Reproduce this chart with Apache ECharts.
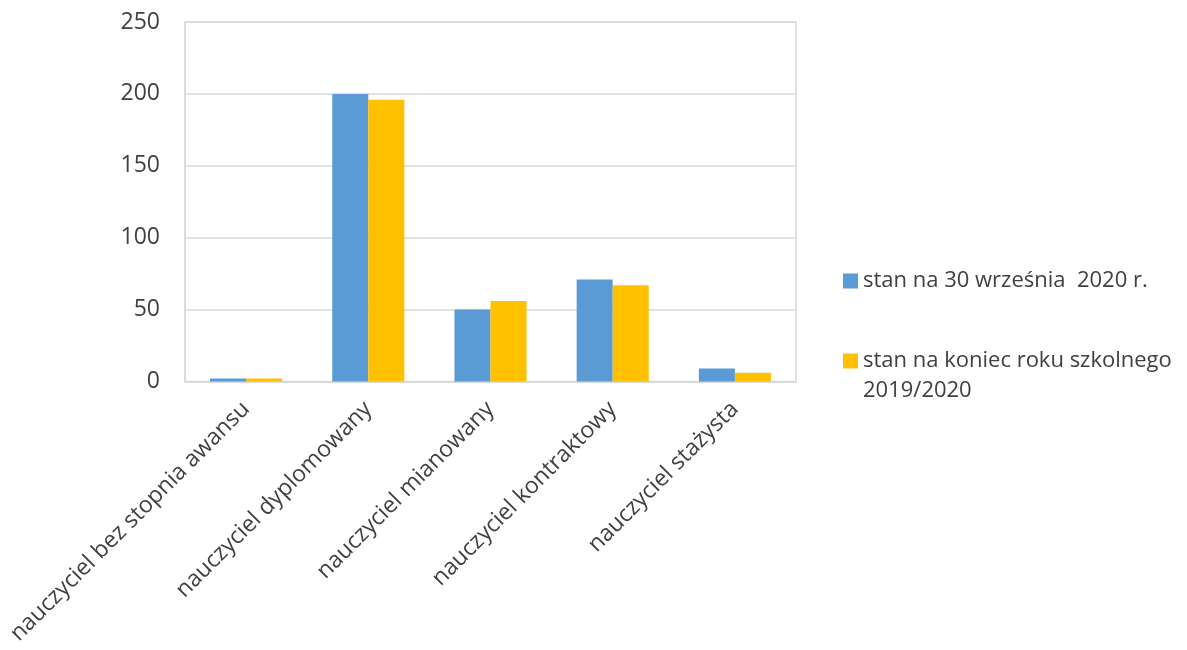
<!DOCTYPE html>
<html><head><meta charset="utf-8">
<script src="https://cdn.jsdelivr.net/npm/echarts@6/dist/echarts.min.js"></script>
<style>html,body{margin:0;padding:0;background:#fff}#c{width:1187px;height:650px}</style>
</head><body><div id="c"></div>
<script>
const categories = ['nauczyciel bez stopnia awansu','nauczyciel dyplomowany','nauczyciel mianowany','nauczyciel kontraktowy','nauczyciel stażysta'];
const seriesNames = ['stan na 30 września  2020 r.','stan na koniec roku szkolnego 2019/2020'];
const sept2020 = [2, 200, 50, 71, 9];
const endYear = [2, 196, 56, 67, 6];
const yTicks = [0, 50, 100, 150, 200, 250];

const font = '"Open Sans", "Noto Sans", sans-serif';
const chart = echarts.init(document.getElementById('c'));
chart.setOption({
  animation: false,
  textStyle: {fontFamily: font},
  grid: {left: 185, right: 391, top: 22, bottom: 268.5, show: true, borderColor: '#d9d9d9', borderWidth: 1.5, containLabel: false},
  legend: {
    orient: 'vertical', left: 838, top: 261, itemWidth: 15, itemHeight: 15, itemGap: 20, icon: 'rect',
    textStyle: {fontFamily: font, fontSize: 22, color: '#404040', lineHeight: 30},
    formatter: n => n === seriesNames[1] ? '\nstan na koniec roku szkolnego\n2019/2020' : n,
    data: seriesNames
  },
  xAxis: {
    type: 'category', data: categories,
    axisLine: {lineStyle: {color: '#d9d9d9', width: 1.5}},
    axisTick: {show: false},
    axisLabel: {rotate: 45, interval: 0, fontSize: 23, color: '#404040', fontFamily: font, margin: 24}
  },
  yAxis: {
    type: 'value', min: yTicks[0], max: yTicks[yTicks.length-1], interval: 50,
    axisLine: {show: true, lineStyle: {color: '#d9d9d9', width: 1.5}},
    axisTick: {show: false},
    splitLine: {lineStyle: {color: '#d9d9d9', width: 1.5}},
    axisLabel: {fontSize: 23, color: '#404040', fontFamily: font, margin: 25}
  },
  series: [
    {name: seriesNames[0], type: 'bar', data: sept2020, barGap: '0%', barCategoryGap: '41%', itemStyle: {color: '#5B9BD5'}},
    {name: seriesNames[1], type: 'bar', data: endYear, barGap: '0%', barCategoryGap: '41%', itemStyle: {color: '#FFC000'}}
  ]
});
</script></body></html>
